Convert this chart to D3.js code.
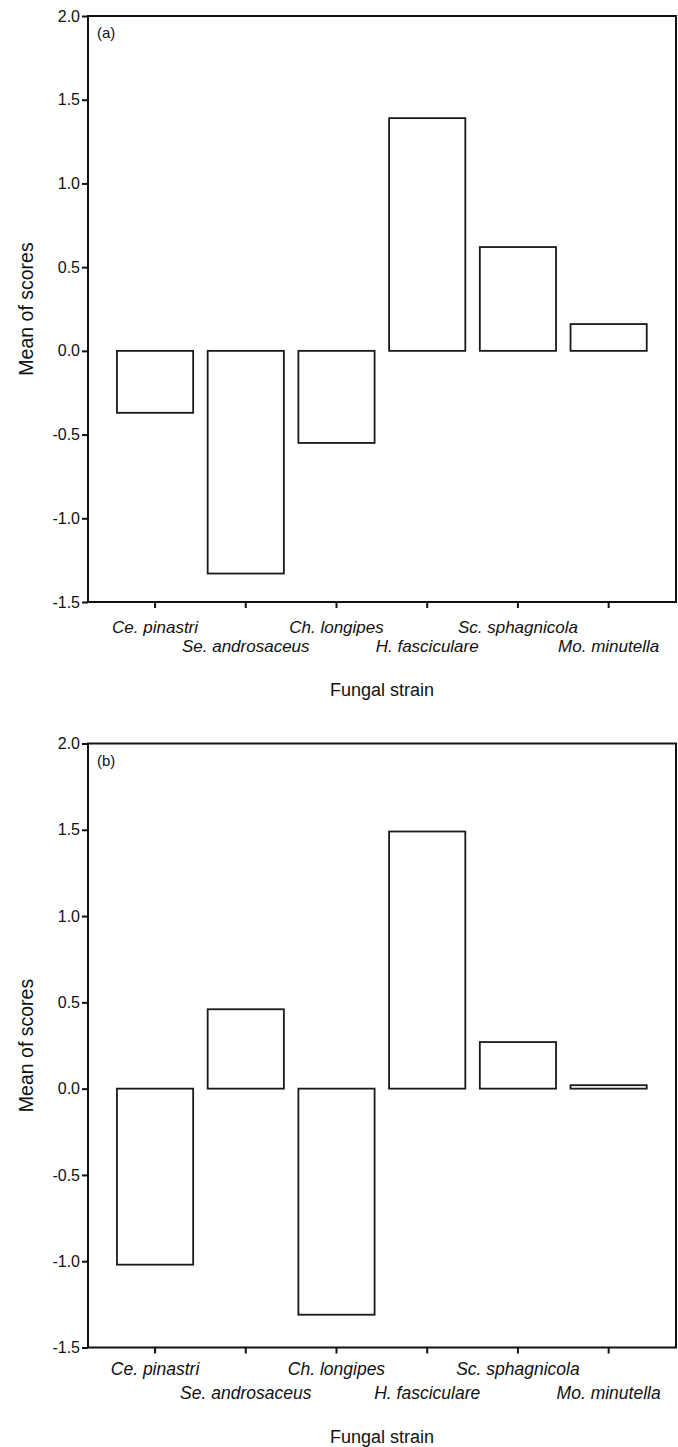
<!DOCTYPE html>
<html>
<head>
<meta charset="utf-8">
<script src="https://cdn.jsdelivr.net/npm/d3@7"></script>
<style>
  body { margin: 0; background: #fff; }
  svg { display: block; }
  text { font-family: "Liberation Sans", Arial, sans-serif; fill: #111; }
</style>
</head>
<body>
<script>
// Mean scores per fungal strain, two panels

var strains = ["Ce. pinastri", "Se. androsaceus", "Ch. longipes",
               "H. fasciculare", "Sc. sphagnicola", "Mo. minutella"];
var scoresA = [-0.37, -1.33, -0.55, 1.39, 0.62, 0.16];
var scoresB = [-1.02, 0.46, -1.31, 1.49, 0.27, 0.02];
var yTicks = [-1.5, -1.0, -0.5, 0.0, 0.5, 1.0, 1.5, 2.0];
var panelTags = ["(a)", "(b)"];

var W = 678, H = 1447;
var left = 88, right = 676;

var svg = d3.select("body").append("svg")
    .attr("width", W)
    .attr("height", H);

// per-panel layout (label offsets are below the x axis)
var panels = [
    { tag: panelTags[0], values: scoresA, top: 16, bottom: 602,
      row1: 31, row2: 50, title: 94, labelSize: 17 },
    { tag: panelTags[1], values: scoresB, top: 743.5, bottom: 1347.5,
      row1: 27, row2: 51, title: 95, labelSize: 17.5 }
];

var x = d3.scaleBand()
    .domain(strains)
    .range([109.7, 654])
    .paddingInner(0.16)
    .paddingOuter(0.08);

panels.forEach(function(p) {
    var y = d3.scaleLinear()
        .domain([-1.5, 2.0])
        .range([p.bottom, p.top]);

    var g = svg.append("g");

    // bars
    g.selectAll(".bar")
        .data(p.values)
        .enter()
        .append("rect")
        .attr("class", "bar")
        .attr("x", function(d, i) { return x(strains[i]); })
        .attr("width", x.bandwidth())
        .attr("y", function(d) { return y(Math.max(0, d)); })
        .attr("height", function(d) { return Math.abs(y(d) - y(0)); })
        .style("fill", "none")
        .style("stroke", "#1a1a1a")
        .style("stroke-width", 1.8);

    // frame
    g.append("rect")
        .attr("x", left)
        .attr("y", p.top)
        .attr("width", right - left)
        .attr("height", p.bottom - p.top)
        .style("fill", "none")
        .style("stroke", "#111")
        .style("stroke-width", 2);

    // y axis
    var yAxis = g.append("g")
        .attr("transform", "translate(" + left + ",0)")
        .attr("font-size", 16)
        .attr("font-family", "'Liberation Sans', Arial, sans-serif")
        .call(d3.axisLeft(y)
            .tickValues(yTicks)
            .tickSize(6)
            .tickSizeOuter(0)
            .tickPadding(2)
            .tickFormat(function(d) { return d.toFixed(1); }));
    yAxis.attr("font-size", 16);
    yAxis.select(".domain").remove();
    yAxis.selectAll(".tick line").style("stroke", "#111").style("stroke-width", 2);
    yAxis.selectAll(".tick text")
        .style("font-size", "16px")
        .style("fill", "#111");

    // x axis ticks
    var xAxis = g.append("g")
        .attr("transform", "translate(0," + p.bottom + ")")
        .call(d3.axisBottom(x).tickSize(6).tickSizeOuter(0).tickFormat(""));
    xAxis.select(".domain").remove();
    xAxis.selectAll(".tick line").style("stroke", "#111").style("stroke-width", 2);

    // staggered strain labels
    g.selectAll(".strain")
        .data(strains)
        .enter()
        .append("text")
        .attr("class", "strain")
        .attr("x", function(d) { return x(d) + x.bandwidth() / 2; })
        .attr("y", function(d, i) { return p.bottom + (i % 2 === 0 ? p.row1 : p.row2); })
        .attr("text-anchor", "middle")
        .style("font-style", "italic")
        .style("font-size", p.labelSize + "px")
        .text(function(d) { return d; });

    // axis titles
    g.append("text")
        .attr("x", (left + right) / 2)
        .attr("y", p.bottom + p.title)
        .attr("text-anchor", "middle")
        .style("font-size", "18px")
        .text("Fungal strain");

    g.append("text")
        .attr("transform", "translate(33," + (p.top + p.bottom) / 2 + ") rotate(-90)")
        .attr("text-anchor", "middle")
        .style("font-size", "19.5px")
        .text("Mean of scores");

    // panel tag
    g.append("text")
        .attr("x", left + 9)
        .attr("y", p.top + 22)
        .style("font-size", "15px")
        .text(p.tag);
});
</script>
</body>
</html>
